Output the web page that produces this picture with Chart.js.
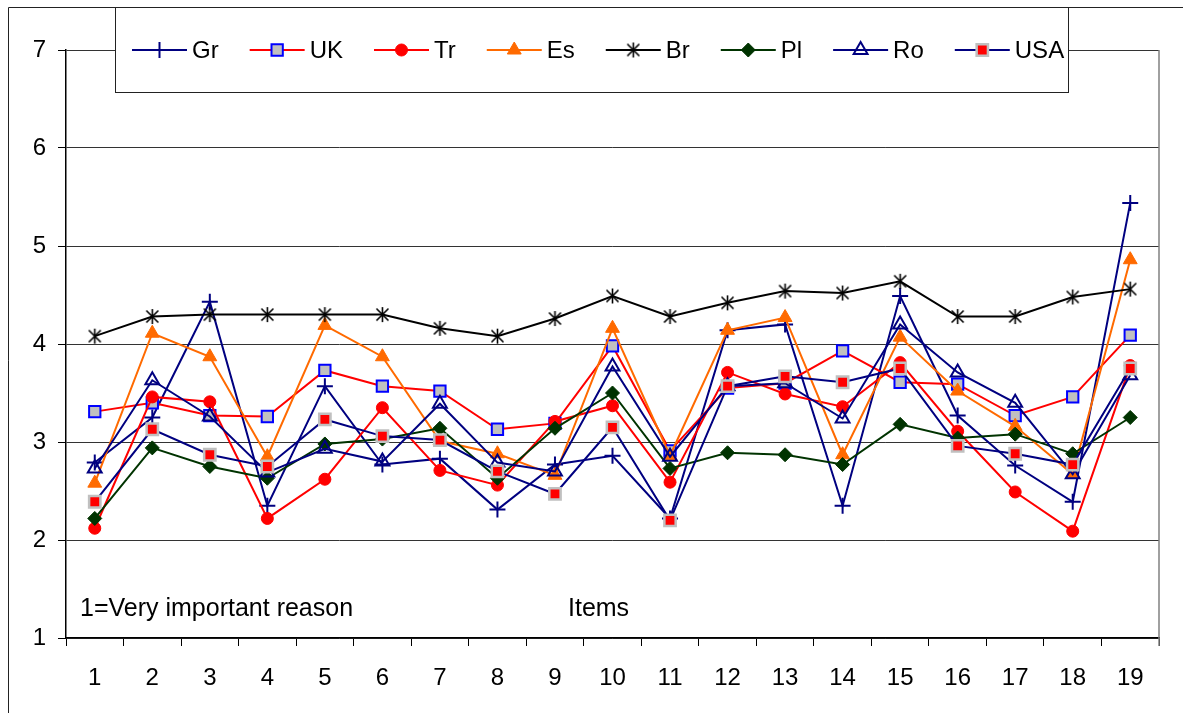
<!DOCTYPE html>
<html lang="en">
<head>
    <meta charset="UTF-8">
    <title>Items - reasons by country</title>
    <script src="https://cdn.jsdelivr.net/npm/chart.js@4.4.0/dist/chart.umd.min.js"></script>
    <style>
        html, body { margin: 0; padding: 0; background: #fff; }
        #wrap { width: 1183px; height: 713px; }
    </style>
</head>
<body>
    <div id="wrap">
        <canvas id="itemsChart" width="1183" height="713"></canvas>
    </div>
    <script>
        // values
        const items = ['1', '2', '3', '4', '5', '6', '7', '8', '9', '10', '11', '12', '13', '14', '15', '16', '17', '18', '19'];
        const yTicks = [1, 2, 3, 4, 5, 6, 7];
        const seriesNames = ['Gr', 'UK', 'Tr', 'Es', 'Br', 'Pl', 'Ro', 'USA'];

        const gr  = [2.79, 3.25, 4.43, 2.35, 3.57, 2.77, 2.83, 2.31, 2.77, 2.86, 2.22, 4.14, 4.20, 2.35, 4.49, 3.27, 2.76, 2.39, 5.44];
        const uk  = [3.31, 3.40, 3.27, 3.26, 3.73, 3.57, 3.52, 3.13, 3.19, 3.98, 2.91, 3.55, 3.60, 3.93, 3.61, 3.59, 3.27, 3.46, 4.09];
        const tr  = [2.12, 3.46, 3.41, 2.22, 2.62, 3.35, 2.71, 2.56, 3.21, 3.37, 2.59, 3.71, 3.49, 3.36, 3.81, 3.11, 2.49, 2.09, 3.78];
        const es  = [2.58, 4.11, 3.87, 2.85, 4.19, 3.87, 3.01, 2.88, 2.66, 4.16, 2.86, 4.14, 4.27, 2.87, 4.07, 3.52, 3.16, 2.67, 4.86];
        const br  = [4.08, 4.28, 4.30, 4.30, 4.30, 4.30, 4.16, 4.08, 4.26, 4.49, 4.28, 4.42, 4.54, 4.52, 4.64, 4.28, 4.28, 4.48, 4.56];
        const pl  = [2.22, 2.94, 2.75, 2.63, 2.98, 3.03, 3.14, 2.63, 3.14, 3.50, 2.73, 2.89, 2.87, 2.77, 3.18, 3.04, 3.08, 2.88, 3.25];
        const ro  = [2.73, 3.63, 3.26, 2.69, 2.93, 2.80, 3.39, 2.79, 2.70, 3.77, 2.85, 3.57, 3.60, 3.24, 4.20, 3.71, 3.40, 2.67, 3.68];
        const usa = [2.39, 3.13, 2.87, 2.75, 3.23, 3.06, 3.02, 2.70, 2.47, 3.15, 2.20, 3.57, 3.67, 3.61, 3.75, 2.96, 2.88, 2.77, 3.75];

        const FONT = "'Liberation Sans', Arial, sans-serif";

        // asterisk marker (X plus a vertical bar), like the Excel one
        function makeStar(color) {
            const c = document.createElement('canvas');
            c.width = 17; c.height = 17;
            const g = c.getContext('2d');
            g.strokeStyle = color;
            g.lineWidth = 1.6;
            g.beginPath();
            g.moveTo(2.5, 2.5); g.lineTo(14.5, 14.5);
            g.moveTo(14.5, 2.5); g.lineTo(2.5, 14.5);
            g.moveTo(8.5, 1); g.lineTo(8.5, 16);
            g.stroke();
            return c;
        }

        function series(label, data, line, style, radius, fill, border, bw) {
            return {
                label: label,
                data: data,
                borderColor: line,
                borderWidth: 2,
                tension: 0,
                fill: false,
                pointStyle: style,
                pointRadius: radius,
                pointHoverRadius: radius,
                pointBackgroundColor: fill,
                pointBorderColor: border,
                pointBorderWidth: bw
            };
        }

        const datasets = [
            series(seriesNames[0], gr,  '#000080', 'cross',    8, '#000080', '#000080', 2),
            series(seriesNames[1], uk,  '#ff0000', 'rect',     8, '#c0c0c0', '#0000ff', 2),
            series(seriesNames[2], tr,  '#ff0000', 'circle',   6, '#ff0000', '#ff0000', 1),
            series(seriesNames[3], es,  '#ff6a00', 'triangle', 8, '#ff6a00', '#ff6a00', 1),
            series(seriesNames[4], br,  '#000000', makeStar('#000000'), 8, '#000000', '#000000', 1),
            series(seriesNames[5], pl,  '#003300', 'rectRot',  7, '#003300', '#003300', 1),
            series(seriesNames[6], ro,  '#000080', 'triangle', 8, 'rgba(0,0,0,0)', '#000080', 2),
            series(seriesNames[7], usa, '#000080', 'rect',     8, '#ff0000', '#c0c0c0', 2.5)
        ];
        // later series on top, as in the original
        datasets.forEach((d, i) => { d.order = datasets.length - i; });

        const decor = {
            id: 'decor',
            beforeDraw(chart) {
                const ctx = chart.ctx;
                ctx.save();
                ctx.fillStyle = '#ffffff';
                ctx.fillRect(0, 0, chart.width, chart.height);
                ctx.restore();
            },
            beforeDatasetsDraw(chart) {
                const ctx = chart.ctx;
                const a = chart.chartArea;
                ctx.save();
                // right edge of the plot area
                ctx.strokeStyle = '#808080';
                ctx.lineWidth = 1.5;
                ctx.beginPath();
                ctx.moveTo(a.right, a.top);
                ctx.lineTo(a.right, a.bottom + 8);
                ctx.stroke();
                // notes inside the plot
                ctx.fillStyle = '#000';
                ctx.font = '25px ' + FONT;
                ctx.textBaseline = 'middle';
                ctx.textAlign = 'left';
                ctx.fillText('1=Very important reason', a.left + 14, a.bottom - 29);
                ctx.fillText('Items', 568, a.bottom - 29);
                ctx.restore();
            },
            afterDraw(chart) {
                const ctx = chart.ctx;
                ctx.save();
                // outer frame
                ctx.strokeStyle = '#222';
                ctx.lineWidth = 1;
                ctx.beginPath();
                ctx.moveTo(8.5, chart.height);
                ctx.lineTo(8.5, 7.5);
                ctx.lineTo(chart.width, 7.5);
                ctx.stroke();

                // legend box overlapping the top of the plot
                const box = { left: 115.5, top: 7.5, right: 1068.5, bottom: 92.5 };
                ctx.fillStyle = '#fff';
                ctx.fillRect(box.left, box.top, box.right - box.left, box.bottom - box.top);
                ctx.strokeStyle = '#222';
                ctx.strokeRect(box.left, box.top, box.right - box.left, box.bottom - box.top);

                const cy = 50;
                let x = 132;
                ctx.font = '24px ' + FONT;
                ctx.textBaseline = 'middle';
                ctx.textAlign = 'left';
                chart.data.datasets.forEach(ds => {
                    ctx.strokeStyle = ds.borderColor;
                    ctx.lineWidth = 2;
                    ctx.beginPath();
                    ctx.moveTo(x, cy);
                    ctx.lineTo(x + 55, cy);
                    ctx.stroke();
                    ctx.fillStyle = ds.pointBackgroundColor;
                    ctx.strokeStyle = ds.pointBorderColor;
                    ctx.lineWidth = ds.pointBorderWidth;
                    Chart.helpers.drawPoint(ctx, {
                        pointStyle: ds.pointStyle,
                        radius: ds.pointRadius,
                        borderWidth: ds.pointBorderWidth,
                        rotation: 0
                    }, x + 27.5, cy);
                    ctx.fillStyle = '#000';
                    ctx.fillText(ds.label, x + 60, cy + 1);
                    x += 60 + ctx.measureText(ds.label).width + 31;
                });
                ctx.restore();
            }
        };

        new Chart(document.getElementById('itemsChart'), {
            type: 'line',
            data: { labels: items, datasets: datasets },
            options: {
                responsive: false,
                animation: false,
                devicePixelRatio: 1,
                layout: { padding: { left: 0, top: 50, right: 24, bottom: 0 } },
                plugins: {
                    legend: { display: false },
                    tooltip: { enabled: false }
                },
                scales: {
                    x: {
                        offset: true,
                        afterFit(scale) { scale.height = 75; },
                        grid: {
                            offset: true,
                            drawOnChartArea: false,
                            drawTicks: true,
                            tickLength: 8,
                            tickColor: '#000',
                            tickWidth: 1
                        },
                        border: { display: true, color: '#000', width: 1.5 },
                        ticks: {
                            color: '#000',
                            padding: 18,
                            maxRotation: 0,
                            autoSkip: false,
                            font: { family: FONT, size: 24 }
                        }
                    },
                    y: {
                        min: yTicks[0],
                        max: yTicks[yTicks.length - 1],
                        afterFit(scale) { scale.width = 66; },
                        afterBuildTicks(scale) { scale.ticks = yTicks.map(v => ({ value: v })); },
                        grid: {
                            color: '#333',
                            lineWidth: 1,
                            drawTicks: true,
                            tickLength: 8,
                            tickColor: '#000'
                        },
                        border: { display: true, color: '#000', width: 1.5 },
                        ticks: {
                            color: '#000',
                            padding: 12,
                            font: { family: FONT, size: 24 }
                        }
                    }
                }
            },
            plugins: [decor]
        });
    </script>
</body>
</html>
